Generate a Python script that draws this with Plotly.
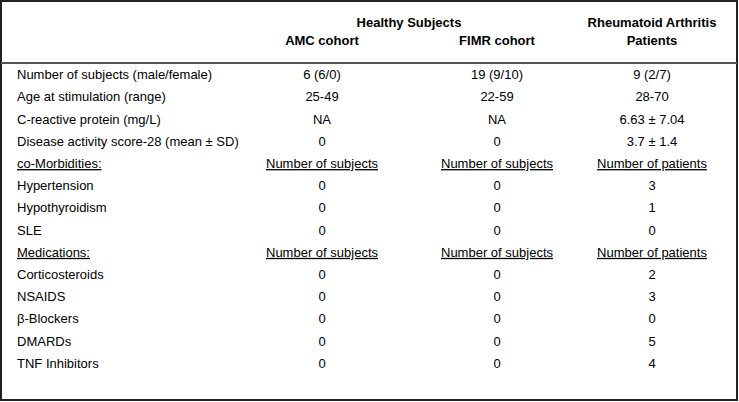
import plotly.graph_objects as go

W, H = 739, 402

# ---- data ----
row_labels = [
    "Number of subjects (male/female)",
    "Age at stimulation (range)",
    "C-reactive protein (mg/L)",
    "Disease activity score-28 (mean ± SD)",
    "<u>co-Morbidities:</u>",
    "Hypertension",
    "Hypothyroidism",
    "SLE",
    "<u>Medications:</u>",
    "Corticosteroids",
    "NSAIDS",
    "β-Blockers",
    "DMARDs",
    "TNF Inhibitors",
]
amc_values = ["6 (6/0)", "25-49", "NA", "0", "<u>Number of subjects</u>",
              "0", "0", "0", "<u>Number of subjects</u>", "0", "0", "0", "0", "0"]
fimr_values = ["19 (9/10)", "22-59", "NA", "0", "<u>Number of subjects</u>",
               "0", "0", "0", "<u>Number of subjects</u>", "0", "0", "0", "0", "0"]
ra_values = ["9 (2/7)", "28-70", "6.63 ± 7.04", "3.7 ± 1.4", "<u>Number of patients</u>",
             "3", "1", "0", "<u>Number of patients</u>", "2", "3", "0", "5", "4"]
group_headers = ["Healthy Subjects", "Rheumatoid Arthritis"]
column_headers = ["AMC cohort", "FIMR cohort", "Patients"]

# ---- layout helpers ----
row_y0, row_step = 76, 22.2
row_y = [row_y0 + i * row_step for i in range(len(row_labels))]
col_x = [322, 497, 652]
label_x = 17

FONT = "Liberation Sans, Arial, sans-serif"
fs = 13

fig = go.Figure()

fig.add_trace(go.Scatter(
    x=[label_x] * len(row_labels), y=row_y, mode="text", text=row_labels,
    textposition="middle right", textfont=dict(family=FONT, size=fs, color="#000"),
    hoverinfo="skip", showlegend=False))

for cx, vals in zip(col_x, [amc_values, fimr_values, ra_values]):
    fig.add_trace(go.Scatter(
        x=[cx] * len(vals), y=row_y, mode="text", text=vals,
        textposition="middle center", textfont=dict(family=FONT, size=fs, color="#000"),
        hoverinfo="skip", showlegend=False))

# header texts
hdr_x = [409, col_x[2], col_x[0], col_x[1], col_x[2]]
hdr_y = [24, 24, 42, 42, 42]
hdr_text = [f"<b>{t}</b>" for t in group_headers + column_headers]
fig.add_trace(go.Scatter(
    x=hdr_x, y=hdr_y, mode="text", text=hdr_text, textposition="middle center",
    textfont=dict(family=FONT, size=fs, color="#000"),
    hoverinfo="skip", showlegend=False))

# border and header rule
fig.add_shape(type="rect", x0=1, y0=1, x1=W - 2, y1=H - 2,
              line=dict(color="#222", width=2))
fig.add_shape(type="line", x0=1, y0=63, x1=W - 2, y1=63,
              line=dict(color="#555", width=2))

fig.update_layout(
    width=W, height=H, margin=dict(l=0, r=0, t=0, b=0),
    paper_bgcolor="white", plot_bgcolor="white",
    xaxis=dict(range=[0, W], visible=False, fixedrange=True),
    yaxis=dict(range=[H, 0], visible=False, fixedrange=True),
)

fig.write_html(
    "out.html",
    config={"displayModeBar": False},
    post_script="document.body.style.margin='0';document.body.style.overflow='hidden';",
)
